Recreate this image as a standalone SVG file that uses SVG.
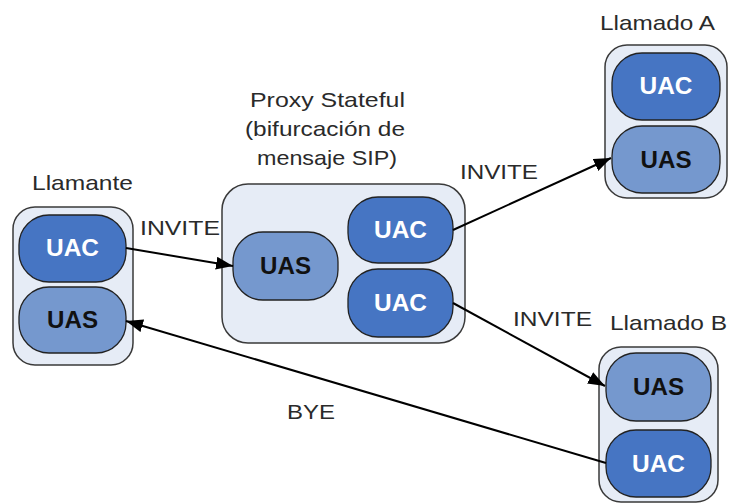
<svg xmlns="http://www.w3.org/2000/svg" width="731" height="504" viewBox="0 0 731 504">
<style>
.box{fill:#E6ECF6;stroke:#3a3a3a;stroke-width:1.5}
.uac{fill:#4675C3;stroke:#222;stroke-width:1.3}
.uas{fill:#7598CE;stroke:#222;stroke-width:1.3}
.lbl{font-family:"Liberation Sans",Arial,sans-serif;font-size:21px;fill:#2a2a2a}
.tac{font-family:"Liberation Sans",Arial,sans-serif;font-size:23px;font-weight:bold;fill:#fff;text-anchor:middle}
.tas{font-family:"Liberation Sans",Arial,sans-serif;font-size:23px;font-weight:bold;fill:#111;text-anchor:middle}
.edge{stroke:#000;stroke-width:2;fill:none;marker-end:url(#ah)}
</style>
<defs>
<marker id="ah" markerUnits="userSpaceOnUse" markerWidth="17" markerHeight="13" refX="17" refY="6.5" orient="auto">
<path d="M0,0 L17,6.5 L0,13 Z" fill="#000"/>
</marker>
</defs>
<rect width="731" height="504" fill="#fff"/>
<g id="llamante">
<rect class="box" x="13" y="207" width="120" height="158" rx="22"/>
<rect class="uac" x="19" y="215" width="107" height="67" rx="30"/>
<text class="tac" x="72.5" y="256" textLength="53" lengthAdjust="spacingAndGlyphs">UAC</text>
<rect class="uas" x="19" y="287" width="107" height="66" rx="30"/>
<text class="tas" x="72.5" y="328" textLength="51" lengthAdjust="spacingAndGlyphs">UAS</text>
<text class="lbl" x="32" y="190" textLength="101" lengthAdjust="spacingAndGlyphs">Llamante</text>
</g>
<g id="proxy">
<rect class="box" x="222" y="184" width="243" height="159" rx="26"/>
<rect class="uas" x="233" y="232" width="105" height="68" rx="30"/>
<text class="tas" x="285.5" y="274" textLength="51" lengthAdjust="spacingAndGlyphs">UAS</text>
<rect class="uac" x="348" y="197" width="105" height="66" rx="30"/>
<text class="tac" x="400.5" y="238" textLength="53" lengthAdjust="spacingAndGlyphs">UAC</text>
<rect class="uac" x="348" y="269" width="105" height="68" rx="30"/>
<text class="tac" x="400.5" y="311" textLength="53" lengthAdjust="spacingAndGlyphs">UAC</text>
<text class="lbl" x="250" y="107" textLength="155" lengthAdjust="spacingAndGlyphs">Proxy Stateful</text>
<text class="lbl" x="245" y="136" textLength="160" lengthAdjust="spacingAndGlyphs">(bifurcación de</text>
<text class="lbl" x="257" y="165" textLength="140" lengthAdjust="spacingAndGlyphs">mensaje SIP)</text>
</g>
<g id="llamadoA">
<rect class="box" x="605" y="45" width="122" height="153" rx="22"/>
<rect class="uac" x="612" y="53" width="108" height="67" rx="30"/>
<text class="tac" x="666" y="94" textLength="53" lengthAdjust="spacingAndGlyphs">UAC</text>
<rect class="uas" x="612" y="126" width="108" height="67" rx="30"/>
<text class="tas" x="666" y="168" textLength="51" lengthAdjust="spacingAndGlyphs">UAS</text>
<text class="lbl" x="600" y="30" textLength="115" lengthAdjust="spacingAndGlyphs">Llamado A</text>
</g>
<g id="llamadoB">
<rect class="box" x="599" y="347" width="119" height="155" rx="22"/>
<rect class="uas" x="606" y="353" width="105" height="68" rx="30"/>
<text class="tas" x="658.5" y="395" textLength="51" lengthAdjust="spacingAndGlyphs">UAS</text>
<rect class="uac" x="606" y="430" width="105" height="67" rx="30"/>
<text class="tac" x="658.5" y="472" textLength="53" lengthAdjust="spacingAndGlyphs">UAC</text>
<text class="lbl" x="610" y="330" textLength="117" lengthAdjust="spacingAndGlyphs">Llamado B</text>
</g>
<g id="connectors">
<line class="edge" x1="126" y1="248" x2="233" y2="266"/>
<line class="edge" x1="453" y1="230" x2="611" y2="158"/>
<line class="edge" x1="453" y1="303" x2="605" y2="386"/>
<line class="edge" x1="606" y1="463" x2="126" y2="321"/>
</g>
<g id="labels">
<text class="lbl" x="140" y="235" textLength="80" lengthAdjust="spacingAndGlyphs">INVITE</text>
<text class="lbl" x="460" y="179" textLength="78" lengthAdjust="spacingAndGlyphs">INVITE</text>
<text class="lbl" x="513" y="326" textLength="79" lengthAdjust="spacingAndGlyphs">INVITE</text>
<text class="lbl" x="287" y="419" textLength="48" lengthAdjust="spacingAndGlyphs">BYE</text>
</g>
</svg>
